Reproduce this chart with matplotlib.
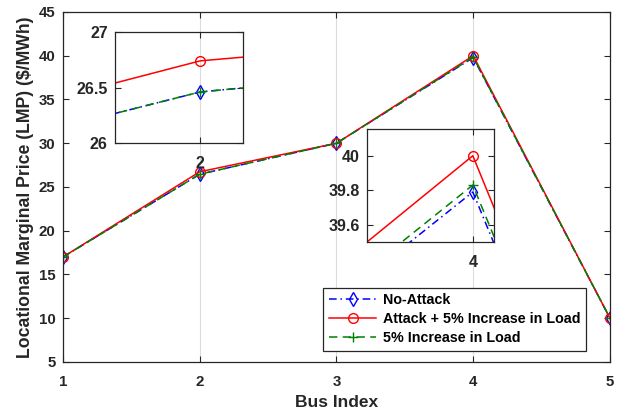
import matplotlib
matplotlib.use("Agg")
import matplotlib.pyplot as plt

plt.rcParams['font.family'] = ['Liberation Sans', 'DejaVu Sans']
plt.rcParams['font.weight'] = 'bold'

bus = [1, 2, 3, 4, 5]
no_attack = [17.0, 26.46, 30.0, 39.79, 10.0]
attack_load = [17.0, 26.74, 30.0, 40.0, 10.0]
load_only = [17.0, 26.46, 30.0, 39.83, 10.0]

series = [
    (no_attack, 'No-Attack', 'b', (0, (5, 2.5, 1, 2.5)), 'd'),
    (attack_load, 'Attack + 5% Increase in Load', 'r', '-', 'o'),
    (load_only, '5% Increase in Load', 'g', (0, (5.5, 3.5)), '+'),
]
edge = '#262626'


def style_axes(ax, size, xpad, ypad):
    ax.tick_params(direction='in', top=True, right=True, labelsize=size,
                   colors=edge, length=4, width=0.8)
    ax.tick_params(axis='x', pad=xpad)
    ax.tick_params(axis='y', pad=ypad)
    for t in ax.get_xticklabels() + ax.get_yticklabels():
        t.set_fontweight('bold')
    for s in ax.spines.values():
        s.set_color(edge)
        s.set_linewidth(0.9)
    ax.grid(axis='x', color='#dcdcdc', linewidth=0.8)
    ax.set_axisbelow(True)


def draw(ax, ms):
    for vals, lab, c, ls, mk in series:
        ax.plot(bus, vals, color=c, linestyle=ls, marker=mk, markersize=ms,
                markerfacecolor='none', markeredgewidth=1.0, linewidth=1.1,
                label=lab)


fig = plt.figure(figsize=(6.28, 4.12), dpi=100)
ax = fig.add_axes([0.1003, 0.1214, 0.871, 0.8495])
draw(ax, 7)
ax.set_xlim(1, 5)
ax.set_ylim(5, 45)
ax.set_xticks(bus)
ax.set_yticks(range(5, 50, 5))
style_axes(ax, 10.8, 9.5, 5.5)
ax.set_xlabel('Bus Index', fontsize=12.5, fontweight='bold', color=edge, labelpad=4)
ax.set_ylabel('Locational Marginal Price (LMP) ($/MWh)', fontsize=12.7,
              fontweight='bold', color=edge, labelpad=3)
leg = ax.legend(loc='lower right', bbox_to_anchor=(0.956, 0.031), fontsize=10.3,
                fancybox=False, framealpha=1, edgecolor=edge, handlelength=3.3,
                handletextpad=0.45, borderpad=0.4, labelspacing=0.35,
                borderaxespad=0)
leg.get_frame().set_linewidth(0.9)
for t in leg.get_texts():
    t.set_fontweight('bold')

ins1 = fig.add_axes([0.1831, 0.6529, 0.2038, 0.2694])
draw(ins1, 7)
ins1.set_xlim(1.9795, 2.0103)
ins1.set_ylim(26, 27)
ins1.set_xticks([2])
ins1.set_yticks([26, 26.5, 27])
ins1.set_yticklabels(['26', '26.5', '27'])
style_axes(ins1, 11.5, 9.5, 5.2)

ins2 = fig.add_axes([0.5844, 0.4126, 0.2022, 0.2743])
draw(ins2, 7)
ins2.set_xlim(3.95, 4.01)
ins2.set_ylim(39.5, 40.155)
ins2.set_xticks([4])
ins2.set_yticks([39.6, 39.8, 40])
ins2.set_yticklabels(['39.6', '39.8', '40'])
style_axes(ins2, 11.5, 9.5, 5.2)

fig.savefig('out.png', dpi=100)
